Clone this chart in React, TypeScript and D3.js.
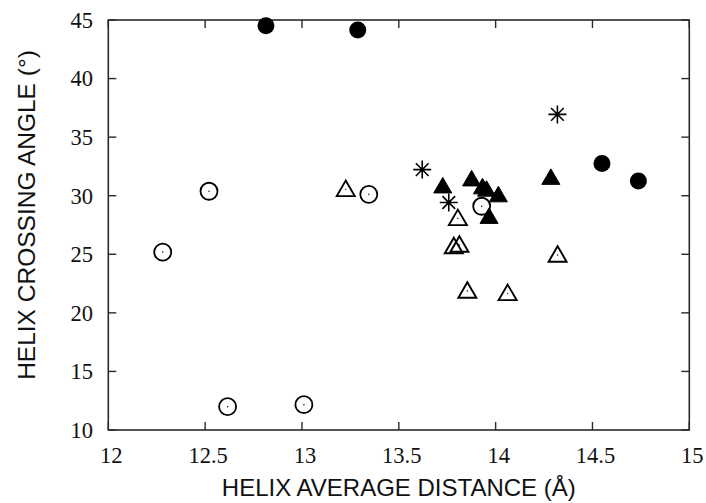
import React from "react";
import * as d3 from "d3";

const xTicks = [12, 12.5, 13, 13.5, 14, 14.5, 15];
const yTicks = [10, 15, 20, 25, 30, 35, 40, 45];

const filledCircles: [number, number][] = [
  [12.814, 44.51],
  [13.288, 44.15],
  [14.549, 32.75],
  [14.737, 31.26],
];
const openCircles: [number, number][] = [
  [12.281, 25.19],
  [12.52, 30.38],
  [12.616, 11.99],
  [13.01, 12.16],
  [13.345, 30.12],
  [13.928, 29.1],
];
const filledTriangles: [number, number][] = [
  [13.727, 30.9],
  [13.876, 31.5],
  [13.932, 30.82],
  [13.953, 30.62],
  [14.014, 30.14],
  [13.966, 28.3],
  [14.285, 31.63],
];
const openTriangles: [number, number][] = [
  [13.226, 30.63],
  [13.805, 28.15],
  [13.784, 25.75],
  [13.813, 25.88],
  [13.854, 21.95],
  [14.062, 21.75],
  [14.32, 25.03],
];
const asterisks: [number, number][] = [
  [13.621, 32.23],
  [13.758, 29.42],
  [14.319, 36.94],
];

const width = 706;
const height = 503;
const left = 108.3;
const right = 689.3;
const top = 20;
const bottom = 430;

const x = d3.scaleLinear().domain([12, 15]).range([left, right]);
const y = d3.scaleLinear().domain([10, 45]).range([bottom, top]);

const axisColor = "#2a2a2a";
const tickLen = 8;
const R = 8.5;
const serifFamily = '"Liberation Serif", "Times New Roman", serif';
const sansFamily = '"Liberation Sans", Arial, sans-serif';

function triPath(cx: number, cy: number, w = 18, h = 15.5) {
  const p = d3.path();
  p.moveTo(cx, cy - h / 2);
  p.lineTo(cx + w / 2, cy + h / 2);
  p.lineTo(cx - w / 2, cy + h / 2);
  p.closePath();
  return p.toString();
}

function starPath(cx: number, cy: number, s = 9) {
  const d = s * Math.SQRT1_2;
  const p = d3.path();
  p.moveTo(cx - s, cy);
  p.lineTo(cx + s, cy);
  p.moveTo(cx, cy - s);
  p.lineTo(cx, cy + s);
  p.moveTo(cx - d, cy - d);
  p.lineTo(cx + d, cy + d);
  p.moveTo(cx - d, cy + d);
  p.lineTo(cx + d, cy - d);
  return p.toString();
}

export default function App() {
  return (
    <svg
      width={width}
      height={height}
      style={{ position: "absolute", left: 0, top: 0, background: "#fff" }}
    >
      <rect x={0} y={0} width={width} height={height} fill="#fff" />
      <rect
        x={left}
        y={top}
        width={right - left}
        height={bottom - top}
        fill="none"
        stroke={axisColor}
        strokeWidth={1.6}
      />
      {xTicks.map((t) => (
        <g key={"xt" + t}>
          <line x1={x(t)} x2={x(t)} y1={bottom} y2={bottom - tickLen} stroke={axisColor} strokeWidth={1.4} />
          <line x1={x(t)} x2={x(t)} y1={top} y2={top + tickLen} stroke={axisColor} strokeWidth={1.4} />
          <text x={x(t) + 3} y={463} textAnchor="middle" fontFamily={serifFamily} fontSize={22.5} fill="#111">
            {t}
          </text>
        </g>
      ))}
      {yTicks.map((t) => (
        <g key={"yt" + t}>
          <line x1={left} x2={left + tickLen} y1={y(t)} y2={y(t)} stroke={axisColor} strokeWidth={1.4} />
          <line x1={right} x2={right - tickLen} y1={y(t)} y2={y(t)} stroke={axisColor} strokeWidth={1.4} />
          <text x={93} y={y(t)} dy="0.35em" textAnchor="end" fontFamily={serifFamily} fontSize={22.5} fill="#111">
            {t}
          </text>
        </g>
      ))}
      <text x={(left + right) / 2} y={496} textAnchor="middle" fontFamily={sansFamily} fontSize={24} fill="#111">
        HELIX AVERAGE DISTANCE (Å)
      </text>
      <text
        transform={`translate(35, 215) rotate(-90)`}
        textAnchor="middle"
        fontFamily={sansFamily}
        fontSize={24.5}
        fill="#111"
      >
        HELIX CROSSING ANGLE (°)
      </text>
      {openTriangles.map(([a, b], i) => (
        <g key={"ot" + i}>
          <path d={triPath(x(a), y(b))} fill="none" stroke="#000" strokeWidth={1.9} />
          <circle cx={x(a)} cy={y(b) + 1} r={0.7} fill="#000" />
        </g>
      ))}
      {openCircles.map(([a, b], i) => (
        <g key={"oc" + i}>
          <circle cx={x(a)} cy={y(b)} r={R} fill="none" stroke="#000" strokeWidth={1.8} />
          <circle cx={x(a)} cy={y(b)} r={0.7} fill="#000" />
        </g>
      ))}
      {filledTriangles.map(([a, b], i) => (
        <path key={"ft" + i} d={triPath(x(a), y(b))} fill="#000" stroke="#000" strokeWidth={1} />
      ))}
      {filledCircles.map(([a, b], i) => (
        <circle key={"fc" + i} cx={x(a)} cy={y(b)} r={R} fill="#000" />
      ))}
      {asterisks.map(([a, b], i) => (
        <path key={"as" + i} d={starPath(x(a), y(b))} fill="none" stroke="#000" strokeWidth={1.6} />
      ))}
    </svg>
  );
}
